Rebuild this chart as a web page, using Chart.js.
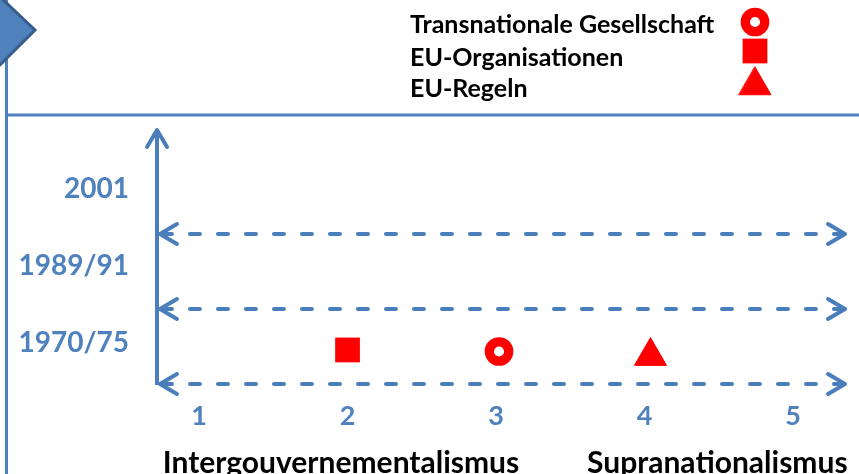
<!DOCTYPE html>
<html>
<head>
<meta charset="utf-8">
<script src="https://cdn.jsdelivr.net/npm/chart.js@4/dist/chart.umd.min.js"></script>
<style>
  body { margin: 0; background: #fff; }
  canvas { display: block; }
</style>
</head>
<body>
<canvas id="myChart" width="859" height="474"></canvas>
<script>
// axes: 1..5 on x, three periods on y
const xTicks = [1, 2, 3, 4, 5];
const yTicks = [0, 1, 2];
const yearLabels = ['1970/75', '1989/91', '2001'];
const poleLabels = ['Intergouvernementalismus', 'Supranationalismus'];
const polePos = [1.956, 4.49];

// marks
const seriesNames = ['Transnationale Gesellschaft', 'EU-Organisationen', 'EU-Regeln'];
const seriesX = [3.02, 2.0, 4.04];
const seriesY = [-0.11, -0.09, -0.17];

// dashed separators between periods (y value) and their x span
const sepY = [-0.532, 0.442, 1.416];
const sepX = [0.737, 5.35];
// vertical arrow (y span)
const axisArrowY = [-0.545, 2.766];

const blue = '#4f81bd';
const lineBlue = '#4a7ebb';
const red = '#ff0000';
const font = 'Lato';

const pointStyles = [
  { pointStyle: 'circle', pointRadius: 9.7, borderWidth: 9.3, backgroundColor: '#ffffff' },
  { pointStyle: 'rect', pointRadius: 17.5, borderWidth: 0, backgroundColor: red },
  { pointStyle: 'triangle', pointRadius: 18.5, borderWidth: 1, backgroundColor: red }
];
const legendY = [22, 51, 85.5];
const legendTextY = [25, 58, 89];

const datasets = [];
seriesNames.forEach((name, i) => {
  datasets.push({
    type: 'scatter',
    label: name,
    data: [{ x: seriesX[i], y: seriesY[i] }],
    borderColor: red,
    ...pointStyles[i],
    legendRow: i,
    clip: false
  });
});
sepY.forEach(y => {
  datasets.push({
    type: 'line',
    label: 'sep',
    data: [{ x: sepX[0], y: y }, { x: sepX[1], y: y }],
    borderColor: lineBlue,
    borderWidth: 4,
    borderDash: [10, 18],
    borderDashOffset: 26,
    borderCapStyle: 'round',
    pointRadius: 0,
    arrowStart: true,
    arrowEnd: true,
    clip: false
  });
});
datasets.push({
  type: 'line',
  label: 'axis',
  data: [{ x: 0.717, y: axisArrowY[0] }, { x: 0.717, y: axisArrowY[1] }],
  borderColor: lineBlue,
  borderWidth: 4,
  pointRadius: 0,
  arrowEnd: true,
  clip: false
});

function drawHead(ctx, tip, from) {
  const dx = tip.x - from.x, dy = tip.y - from.y;
  const len = Math.hypot(dx, dy);
  const ux = dx / len, uy = dy / len;
  const back = 17, side = 10;
  ctx.beginPath();
  ctx.moveTo(tip.x - ux * back - uy * side, tip.y - uy * back + ux * side);
  ctx.lineTo(tip.x, tip.y);
  ctx.lineTo(tip.x - ux * back + uy * side, tip.y - uy * back - ux * side);
  ctx.stroke();
}

const decor = {
  id: 'decor',
  beforeDraw(chart) {
    const ctx = chart.ctx;
    ctx.save();
    ctx.strokeStyle = blue;
    ctx.lineWidth = 3;
    ctx.beginPath();
    ctx.moveTo(6.5, 0);
    ctx.lineTo(6.5, chart.height);
    ctx.moveTo(6.5, 115);
    ctx.lineTo(chart.width, 115);
    ctx.stroke();
    // chevron cut by the left edge
    ctx.beginPath();
    ctx.moveTo(-20, -22);
    ctx.lineTo(35, 30);
    ctx.lineTo(-20, 85);
    ctx.closePath();
    ctx.fillStyle = blue;
    ctx.fill();
    ctx.strokeStyle = '#385d8a';
    ctx.lineWidth = 3;
    ctx.stroke();
    ctx.restore();
  },
  afterDatasetsDraw(chart) {
    const ctx = chart.ctx;
    ctx.save();
    ctx.lineWidth = 4;
    ctx.lineCap = 'round';
    ctx.lineJoin = 'round';
    chart.data.datasets.forEach((ds, i) => {
      if (!ds.arrowStart && !ds.arrowEnd) return;
      const pts = chart.getDatasetMeta(i).data;
      const a = pts[0], b = pts[pts.length - 1];
      ctx.strokeStyle = ds.borderColor;
      if (ds.arrowStart) drawHead(ctx, a, b);
      if (ds.arrowEnd) drawHead(ctx, b, a);
    });
    // legend: names left, markers in a column on the right
    ctx.textBaseline = 'middle';
    ctx.textAlign = 'left';
    ctx.font = 'bold 25px ' + font;
    chart.data.datasets.forEach(ds => {
      if (ds.legendRow === undefined) return;
      const r = ds.legendRow;
      ctx.fillStyle = '#000';
      ctx.fillText(ds.label, 410, legendTextY[r]);
      ctx.fillStyle = ds.backgroundColor;
      ctx.strokeStyle = ds.borderColor;
      ctx.lineWidth = ds.borderWidth;
      Chart.helpers.drawPoint(ctx, {
        pointStyle: ds.pointStyle, radius: ds.pointRadius, rotation: 0, borderWidth: ds.borderWidth
      }, 755, legendY[r]);
    });
    ctx.restore();
  }
};

function noPad(s) {
  s.paddingLeft = 0; s.paddingRight = 0; s.paddingTop = 0; s.paddingBottom = 0;
}

const ctx = document.getElementById('myChart');
const myChart = new Chart(ctx, {
  data: { datasets: datasets },
  options: {
    responsive: false,
    animation: false,
    layout: { autoPadding: false, padding: { top: 118, left: 0, right: 0, bottom: 0 } },
    plugins: { legend: { display: false }, tooltip: { enabled: false } },
    scales: {
      x: {
        type: 'linear', position: 'bottom', weight: 0,
        min: 0.717, max: 5.444,
        grid: { display: false, drawTicks: false, tickLength: 0 },
        border: { display: false },
        afterBuildTicks: s => { s.ticks = xTicks.map(v => ({ value: v })); },
        afterFit: s => { s.height = 50; noPad(s); },
        ticks: { color: blue, padding: 15, font: { family: font, size: 27, weight: 'bold' }, callback: v => String(v) }
      },
      x2: {
        type: 'linear', position: 'bottom', weight: 1,
        min: 0.717, max: 5.444,
        grid: { display: false, drawTicks: false, tickLength: 0 },
        border: { display: false },
        afterBuildTicks: s => { s.ticks = polePos.map(v => ({ value: v })); },
        afterFit: s => { s.height = 39; noPad(s); },
        ticks: {
          color: '#000', padding: 10, autoSkip: false, maxRotation: 0,
          font: { family: font, size: 30, weight: 'bold' },
          callback: (v, i) => poleLabels[i]
        }
      },
      y: {
        type: 'linear', min: -0.545, max: 2.922,
        grid: { display: false, drawTicks: false, tickLength: 0 },
        border: { display: false },
        afterBuildTicks: s => { s.ticks = yTicks.map(v => ({ value: v })); },
        afterFit: s => { s.width = 157; noPad(s); },
        ticks: { color: blue, padding: 28, font: { family: font, size: 28, weight: 'bold' }, callback: (v, i) => yearLabels[i] }
      }
    }
  },
  plugins: [decor]
});
</script>
</body>
</html>
